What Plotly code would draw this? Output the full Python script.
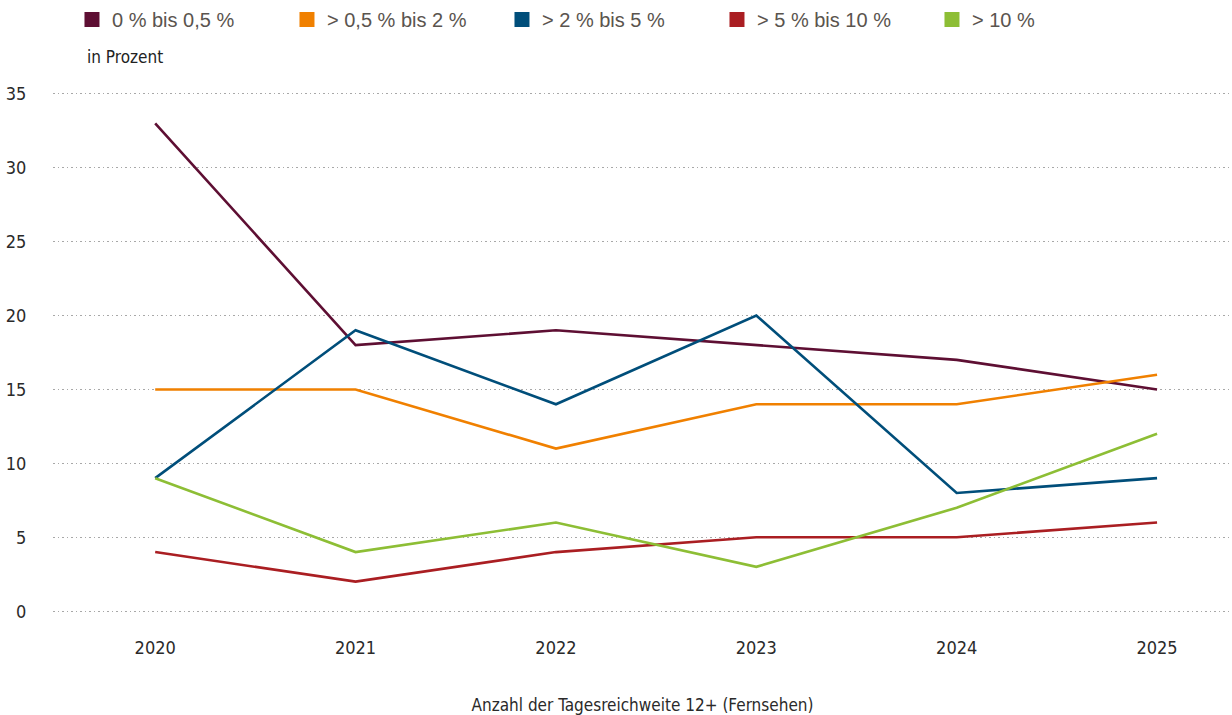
import plotly.graph_objects as go

years = [2020, 2021, 2022, 2023, 2024, 2025]

names = ["0 % bis 0,5 %", "> 0,5 % bis 2 %", "> 2 % bis 5 %", "> 5 % bis 10 %", "> 10 %"]
colors = ["#5e0f33", "#f08000", "#004e7a", "#aa1e22", "#8dbe35"]

s_0_05 = [33, 18, 19, 18, 17, 15]
s_05_2 = [15, 15, 11, 14, 14, 16]
s_2_5 = [9, 19, 14, 20, 8, 9]
s_5_10 = [4, 2, 4, 5, 5, 6]
s_10 = [9, 4, 6, 3, 7, 12]

series = [s_0_05, s_05_2, s_2_5, s_5_10, s_10]

cond = "DejaVu Sans Condensed, Liberation Sans Narrow, Arial Narrow, sans-serif"

fig = go.Figure()

# Linien
for name, col, vals in zip(names, colors, series):
    fig.add_trace(go.Scatter(
        x=years, y=vals, mode="lines", name=name,
        line=dict(color=col, width=2.6),
        showlegend=False, hoverinfo="x+y+name",
    ))

# Legende mit quadratischen Symbolen
for name, col in zip(names, colors):
    fig.add_trace(go.Scatter(
        x=[None], y=[None], mode="markers", name=name,
        marker=dict(color=col, size=15, symbol="square"),
        showlegend=True,
    ))

fig.update_layout(
    width=1232, height=715,
    margin=dict(l=53, r=0, t=79, b=89),
    paper_bgcolor="white", plot_bgcolor="white",
    showlegend=True,
    legend=dict(
        orientation="h", x=0.0161, xref="paper", y=1, yref="container",
        xanchor="left", yanchor="top",
        font=dict(family="Liberation Sans, Arial, sans-serif", size=20, color="#5a544e"),
        itemwidth=30, tracegroupgap=0,
        entrywidth=170, entrywidthmode="pixels",
    ),
    xaxis=dict(
        range=[2019.49, 2025.374],
        tickvals=years, ticktext=[str(y) for y in years],
        showgrid=False, zeroline=False, showline=False,
        ticks="outside", ticklen=5, tickcolor="rgba(0,0,0,0)",
        tickfont=dict(family=cond, size=18, color="#2a2a2a"),
        title=dict(text="Anzahl der Tagesreichweite 12+ (Fernsehen)", standoff=43,
                   font=dict(family=cond, size=17, color="#2a2a2a")),
        fixedrange=True,
    ),
    yaxis=dict(
        range=[-1, 36],
        tickvals=[0, 5, 10, 15, 20, 25, 30, 35],
        showgrid=True, gridcolor="#a8a8a8", griddash="1.5px,3px", gridwidth=1.2,
        zeroline=False, showline=False,
        ticks="outside", ticklen=22, tickcolor="rgba(0,0,0,0)",
        tickfont=dict(family=cond, size=18, color="#2a2a2a"),
        fixedrange=True,
    ),
    annotations=[dict(
        text="in Prozent", xref="paper", yref="paper", x=0.027, y=1.0402,
        xanchor="left", yanchor="middle", showarrow=False,
        font=dict(family=cond, size=17, color="#222222"),
    )],
)

fig.write_html("out.html", config={"displayModeBar": False},
               post_script="document.body.style.margin='0';")
